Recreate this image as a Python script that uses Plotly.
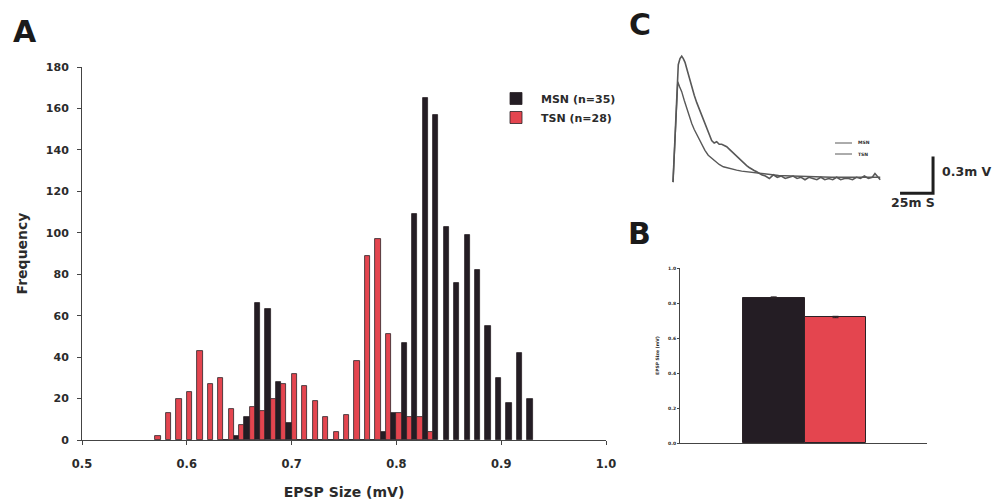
import plotly.graph_objects as go

W, H = 992, 503
FONT = "DejaVu Sans, Liberation Sans, Arial, sans-serif"
INK = "#2b2b2b"

# ---------------- Panel A: histogram of EPSP sizes ----------------
msn_bins = [0.64, 0.65, 0.66, 0.67, 0.68, 0.69, 0.70, 0.71, 0.72, 0.73,
            0.74, 0.75, 0.76, 0.77, 0.78, 0.79, 0.80, 0.81, 0.82, 0.83,
            0.84, 0.85, 0.86, 0.87, 0.88, 0.89, 0.90, 0.91, 0.92, 0.93]
msn_counts = [0, 2, 11, 66, 63, 28, 8, 0, 0, 0,
              0, 0, 0, 0, 0, 4, 13, 47, 109, 165,
              157, 103, 76, 99, 82, 55, 30, 18, 42, 20]

tsn_bins = [0.57, 0.58, 0.59, 0.60, 0.61, 0.62, 0.63, 0.64, 0.65, 0.66,
            0.67, 0.68, 0.69, 0.70, 0.71, 0.72, 0.73, 0.74, 0.75, 0.76,
            0.77, 0.78, 0.79, 0.80, 0.81, 0.82, 0.83]
tsn_counts = [2, 13, 20, 23, 43, 27, 30, 15, 7, 16,
              14, 20, 27, 32, 26, 19, 11, 4, 12, 38,
              89, 97, 51, 13, 11, 11, 4]

msn_name = "MSN (n=35)"
tsn_name = "TSN (n=28)"
freq_ticks = [0, 20, 40, 60, 80, 100, 120, 140, 160, 180]
size_ticks = [0.5, 0.6, 0.7, 0.8, 0.9, 1.0]

# ---------------- Panel B: mean EPSP size ----------------
groups = ["MSN", "TSN"]
mean_size = [0.83, 0.72]
sem_size = [0.005, 0.004]
b_ticks = [0.0, 0.2, 0.4, 0.6, 0.8, 1.0]

# ---------------- Panel C: averaged EPSP traces (ms, mV) ----------------
msn_t = [0, 1.5, 3.6, 4.0, 5.3, 6.6, 7.8, 9.1, 10.4, 11.6, 12.9, 14.2, 16.1, 18.0,
         19.8, 21.7, 23.6, 25.5, 27.4, 29.3, 31.2, 33.1, 35.0, 36.9, 38.8, 40.7,
         42.6, 44.5, 46.4, 48.3, 50.2, 52.0, 53.9, 55.8, 57.7, 59.6, 61.5, 63.4,
         65.3, 67.2, 70, 73, 76, 79, 82, 85, 88, 91, 94, 97, 100, 103, 106, 109,
         112, 115, 118, 121, 124, 127, 130, 133, 136, 139, 142, 145, 148, 151,
         153, 155, 157]
msn_v = [-0.05, 0.35, 0.77, 0.91, 0.96, 0.98, 0.96, 0.93, 0.88, 0.83, 0.78, 0.72,
         0.66, 0.60, 0.55, 0.49, 0.44, 0.38, 0.33, 0.29, 0.27, 0.28, 0.26, 0.26,
         0.25, 0.24, 0.22, 0.20, 0.18, 0.16, 0.14, 0.12, 0.10, 0.085, 0.07, 0.055,
         0.045, 0.035, 0.02, 0.01, 0.0, -0.02, 0.01, -0.01, 0.0, -0.02, -0.01,
         0.0, -0.02, -0.01, -0.03, -0.01, -0.02, -0.03, -0.01, -0.03, -0.02,
         -0.03, -0.01, -0.03, -0.02, -0.02, -0.03, -0.01, -0.02, 0.0, -0.02,
         -0.01, 0.02, -0.01, -0.03]

tsn_t = [0, 1.8, 3.6, 5.0, 6.6, 8.5, 10.4, 12.3, 14.2, 16.1, 18.0, 19.9, 21.7,
         24.2, 26.7, 29.2, 31.8, 35.0, 38.1, 41.3, 44.5, 48.2, 52.0, 55.8, 59.6,
         63.4, 67.2, 71, 75, 80, 90, 100, 110, 120, 130, 140, 150, 157]
tsn_v = [-0.05, 0.40, 0.77, 0.73, 0.69, 0.62, 0.55, 0.49, 0.43, 0.38, 0.34, 0.29,
         0.25, 0.21, 0.17, 0.145, 0.12, 0.095, 0.076, 0.066, 0.057, 0.048, 0.04,
         0.035, 0.03, 0.025, 0.02, 0.015, 0.01, 0.005, 0.0, -0.005, -0.01, -0.01,
         -0.01, -0.01, -0.01, -0.01]

trace_names = ["MSN", "TSN"]
scale_ms = 25
scale_mv = 0.3
scale_t0 = 172
scale_v0 = -0.14

BLACK = "#241d24"
RED = "#e4454f"
EDGE = "#2a2226"
TRACE_GREY = "#585858"


def px(xp):
    return xp / W


def py(yp):
    return 1 - yp / H


def bold(size):
    return dict(family=FONT, size=size, color=INK, weight="bold")


fig = go.Figure()

fig.add_trace(go.Bar(x=msn_bins, y=msn_counts, name=msn_name,
                     marker=dict(color=BLACK, line=dict(color=EDGE, width=0.8)),
                     xaxis="x", yaxis="y"))
fig.add_trace(go.Bar(x=tsn_bins, y=tsn_counts, name=tsn_name,
                     marker=dict(color=RED, line=dict(color=EDGE, width=0.8)),
                     xaxis="x", yaxis="y"))

fig.add_trace(go.Bar(x=groups, y=mean_size,
                     error_y=dict(type="data", array=sem_size, color=EDGE,
                                  thickness=1, width=3),
                     marker=dict(color=[BLACK, RED], line=dict(color=EDGE, width=1)),
                     xaxis="x2", yaxis="y2", showlegend=False))

fig.add_trace(go.Scatter(x=msn_t, y=msn_v, mode="lines", name=trace_names[0],
                         line=dict(color=TRACE_GREY, width=1.6),
                         xaxis="x3", yaxis="y3", showlegend=False))
fig.add_trace(go.Scatter(x=tsn_t, y=tsn_v, mode="lines", name=trace_names[1],
                         line=dict(color=TRACE_GREY, width=1.4),
                         xaxis="x3", yaxis="y3", showlegend=False))
fig.add_trace(go.Scatter(x=[scale_t0, scale_t0 + scale_ms, scale_t0 + scale_ms],
                         y=[scale_v0, scale_v0, scale_v0 + scale_mv],
                         mode="lines", line=dict(color="#1f1f1f", width=3),
                         xaxis="x3", yaxis="y3", showlegend=False))

tinyfont = bold(4.5)

# small key for panel C (line sample + label)
c_key_rows = [143, 154]
shapes = []
annotations = []
for name, row in zip(trace_names, c_key_rows):
    shapes.append(dict(type="line", xref="paper", yref="paper",
                       x0=px(835), x1=px(852), y0=py(row), y1=py(row),
                       line=dict(color=TRACE_GREY, width=1)))
    annotations.append(dict(text=name, x=px(856), y=py(row), xref="paper",
                            yref="paper", xanchor="left", yanchor="middle",
                            showarrow=False, font=bold(4.5)))

letter_font = dict(family=FONT, size=30, color="#1a1a1a", weight="bold")
annotations += [
    dict(text="A", x=px(24.5), y=py(31), xref="paper", yref="paper",
         xanchor="center", yanchor="middle", showarrow=False, font=letter_font),
    dict(text="B", x=px(639.5), y=py(234), xref="paper", yref="paper",
         xanchor="center", yanchor="middle", showarrow=False, font=letter_font),
    dict(text="C", x=px(639.5), y=py(25), xref="paper", yref="paper",
         xanchor="center", yanchor="middle", showarrow=False, font=letter_font),
    dict(text="0.3m V", x=px(940), y=py(172), xref="paper", yref="paper",
         xanchor="left", yanchor="middle", showarrow=False, font=bold(12.5)),
    dict(text="25m S", x=px(912.5), y=py(202), xref="paper", yref="paper",
         xanchor="center", yanchor="middle", showarrow=False, font=bold(12.5)),
]

fig.update_layout(
    width=W, height=H, autosize=False,
    margin=dict(l=0, r=0, t=0, b=0, pad=0, autoexpand=False),
    paper_bgcolor="white", plot_bgcolor="white",
    barmode="group", bargap=0, bargroupgap=0,
    font=dict(family=FONT, color=INK),
    xaxis=dict(domain=[px(82), px(606)], range=[0.5, 1.0], tickvals=size_ticks,
               tickformat=".1f", ticks="outside", ticklen=4, tickcolor="#444",
               showline=True, linecolor="#444", linewidth=1, showgrid=False,
               zeroline=False, tickfont=bold(11.5), ticklabelstandoff=9,
               anchor="y", automargin=False,
               title=dict(text="EPSP Size (mV)", standoff=17, font=bold(14))),
    yaxis=dict(domain=[py(440), py(67)], range=[0, 180], tickvals=freq_ticks,
               ticks="outside", ticklen=4, tickcolor="#444",
               showline=True, linecolor="#444", linewidth=1, showgrid=False,
               zeroline=False, tickfont=bold(11), ticklabelstandoff=6,
               anchor="x", automargin=False,
               title=dict(text="Frequency", standoff=14, font=bold(14))),
    xaxis2=dict(domain=[px(680), px(927)], type="category", range=[-1.516, 2.48],
                showticklabels=False, ticks="", showline=True, linecolor="#444",
                linewidth=1, showgrid=False, zeroline=False, anchor="y2",
                automargin=False),
    yaxis2=dict(domain=[py(443), py(268)], range=[0, 1.0], tickvals=b_ticks,
                tickformat=".1f", ticks="outside", ticklen=2, tickcolor="#444",
                showline=True, linecolor="#444", linewidth=1, showgrid=False,
                zeroline=False, tickfont=tinyfont, anchor="x2", automargin=False,
                title=dict(text="EPSP Size (mV)", standoff=8, font=tinyfont)),
    xaxis3=dict(domain=[px(666.4), px(943.6)], range=[-5, 205], visible=False,
                anchor="y3", automargin=False),
    yaxis3=dict(domain=[py(200.5), py(41.5)], range=[-0.2, 1.1], visible=False,
                anchor="x3", automargin=False),
    legend=dict(x=px(491), y=py(84), xanchor="left", yanchor="top",
                bgcolor="rgba(0,0,0,0)", tracegroupgap=0, itemwidth=40,
                font=bold(11)),
    shapes=shapes,
    annotations=annotations,
)

fig.write_html("out.html", config={"displayModeBar": False},
               post_script="document.body.style.margin='0';"
                           "document.body.style.overflow='hidden';")
